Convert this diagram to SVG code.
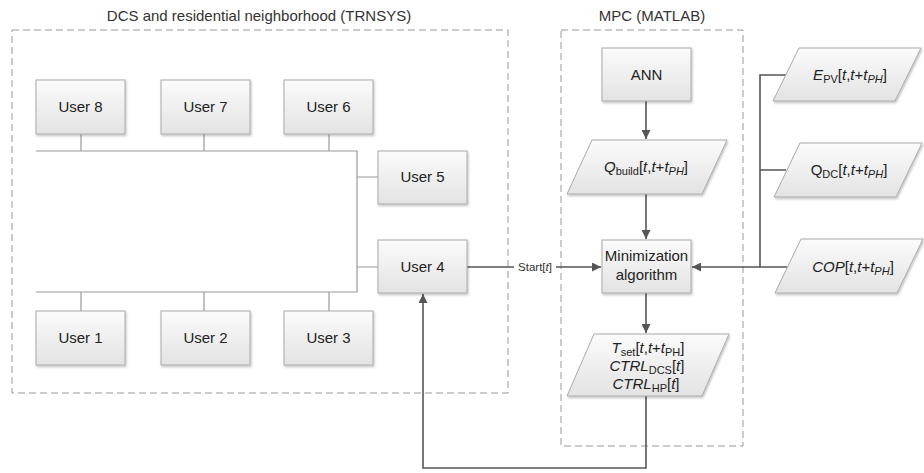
<svg xmlns="http://www.w3.org/2000/svg" width="924" height="473" viewBox="0 0 924 473">
<defs>
<linearGradient id="g" x1="0" y1="0" x2="0" y2="1">
<stop offset="0" stop-color="#fbfbfb"/>
<stop offset="1" stop-color="#e3e3e3"/>
</linearGradient>
<filter id="sh" x="-10%" y="-10%" width="125%" height="130%">
<feDropShadow dx="1" dy="1.5" stdDeviation="1" flood-color="#000" flood-opacity="0.25"/>
</filter>
<marker id="ah" viewBox="0 0 10 10" refX="10" refY="5" markerWidth="9" markerHeight="9" markerUnits="userSpaceOnUse" orient="auto">
<path d="M0,0 L10,5 L0,10 z" fill="#555"/>
</marker>
</defs>
<style>
text{font-family:"Liberation Sans",Arial,sans-serif;fill:#222;}
.t{font-size:15px;text-anchor:middle;}
.lbl{font-size:15px;text-anchor:middle;fill:#333;}
.box{fill:url(#g);stroke:#aaa;stroke-width:1;filter:url(#sh);}
.frame{fill:none;stroke:#999;stroke-width:1;stroke-dasharray:7,4;}
.bus{fill:none;stroke:#999;stroke-width:1.2;}
.arr{fill:none;stroke:#555;stroke-width:1.6;}
.i{font-style:italic;}
.sub{font-size:11px;}
</style>

<g id="frames">
<rect class="frame" x="12" y="30" width="496" height="363"/>
<text class="lbl" x="259" y="21">DCS and residential neighborhood (TRNSYS)</text>
<rect class="frame" x="561" y="30" width="182" height="416"/>
<text class="lbl" x="652" y="21">MPC (MATLAB)</text>
</g>

<g id="connectors">
<path class="bus" d="M36,151 H357 V292 H36"/>
<path class="bus" d="M81,134 V151 M204,134 V151 M329,134 V151"/>
<path class="bus" d="M81,292 V311 M204,292 V311 M329,292 V311"/>
<path class="bus" d="M357,177 H378 M357,267 H378"/>
<path class="arr" d="M467,267 H601" marker-end="url(#ah)"/>
<rect x="514" y="259" width="42" height="16" fill="#fff"/>
<text x="535" y="271" style="font-size:11.5px;text-anchor:middle;fill:#333;">Start[<tspan class="i">t</tspan>]</text>
<path class="arr" d="M646,100 V139" marker-end="url(#ah)"/>
<path class="arr" d="M646,194 V239" marker-end="url(#ah)"/>
<path class="arr" d="M646,293 V333" marker-end="url(#ah)"/>
<path class="arr" d="M646,396 V468 H423 V294" marker-end="url(#ah)"/>
<path class="arr" d="M786,75 H760 V267 M786,170 H760 M787,267 H692" marker-end="url(#ah)"/>
</g>

<g id="user8"><rect class="box" x="36" y="80" width="89" height="54"/><text class="t" x="80.5" y="112">User 8</text></g>
<g id="user7"><rect class="box" x="161" y="80" width="89" height="54"/><text class="t" x="205.5" y="112">User 7</text></g>
<g id="user6"><rect class="box" x="284" y="80" width="89" height="54"/><text class="t" x="328.5" y="112">User 6</text></g>
<g id="user5"><rect class="box" x="378" y="151" width="89" height="53"/><text class="t" x="422.5" y="182">User 5</text></g>
<g id="user4"><rect class="box" x="378" y="240" width="89" height="53"/><text class="t" x="422.5" y="272">User 4</text></g>
<g id="user1"><rect class="box" x="36" y="311" width="89" height="54"/><text class="t" x="80.5" y="343">User 1</text></g>
<g id="user2"><rect class="box" x="161" y="311" width="89" height="54"/><text class="t" x="205.5" y="343">User 2</text></g>
<g id="user3"><rect class="box" x="284" y="311" width="89" height="54"/><text class="t" x="328.5" y="343">User 3</text></g>

<g id="ann"><rect class="box" x="602" y="48" width="89" height="53"/><text class="t" x="646.5" y="80">ANN</text></g>

<g id="qbuild">
<path class="box" d="M592,140 H727 L702,194 H567 Z"/>
<text class="t" x="646" y="172"><tspan class="i">Q</tspan><tspan class="sub" dy="3">build</tspan><tspan dy="-3">[</tspan><tspan class="i">t</tspan>,<tspan class="i">t</tspan>+<tspan class="i">t</tspan><tspan class="sub i" dy="3">PH</tspan><tspan dy="-3">]</tspan></text>
</g>

<g id="minimization">
<rect class="box" x="602" y="240" width="89" height="53"/>
<text class="t" x="646.5" y="261">Minimization</text>
<text class="t" x="646.5" y="280">algorithm</text>
</g>

<g id="output">
<path class="box" d="M594,334 H729 L702,396 H567 Z"/>
<text class="t" x="648" y="353"><tspan class="i">T</tspan><tspan class="sub" dy="3">set</tspan><tspan dy="-3">[</tspan><tspan class="i">t</tspan>,<tspan class="i">t</tspan>+<tspan class="i">t</tspan><tspan class="sub" dy="3">PH</tspan><tspan dy="-3">]</tspan></text>
<text class="t" x="647" y="371"><tspan class="i">CTRL</tspan><tspan class="sub" dy="3">DCS</tspan><tspan dy="-3">[</tspan><tspan class="i">t</tspan>]</text>
<text class="t" x="646" y="389"><tspan class="i">CTRL</tspan><tspan class="sub" dy="3">HP</tspan><tspan dy="-3">[</tspan><tspan class="i">t</tspan>]</text>
</g>

<g id="epv">
<path class="box" d="M799,48 H921 L895,101 H773 Z"/>
<text class="t" x="850" y="80"><tspan class="i">E</tspan><tspan class="sub" dy="3">PV</tspan><tspan dy="-3">[</tspan><tspan class="i">t</tspan>,<tspan class="i">t</tspan>+<tspan class="i">t</tspan><tspan class="sub i" dy="3">PH</tspan><tspan dy="-3">]</tspan></text>
</g>

<g id="qdc">
<path class="box" d="M800,143 H922 L896,197 H774 Z"/>
<text class="t" x="849" y="175">Q<tspan class="sub" dy="3">DC</tspan><tspan dy="-3">[</tspan><tspan class="i">t</tspan>,<tspan class="i">t</tspan>+<tspan class="i">t</tspan><tspan class="sub i" dy="3">PH</tspan><tspan dy="-3">]</tspan></text>
</g>

<g id="cop">
<path class="box" d="M801,239 H923 L897,293 H775 Z"/>
<text class="t" x="853" y="272"><tspan class="i">COP</tspan>[<tspan class="i">t</tspan>,<tspan class="i">t</tspan>+<tspan class="i">t</tspan><tspan class="sub i" dy="3">PH</tspan><tspan dy="-3">]</tspan></text>
</g>
</svg>
